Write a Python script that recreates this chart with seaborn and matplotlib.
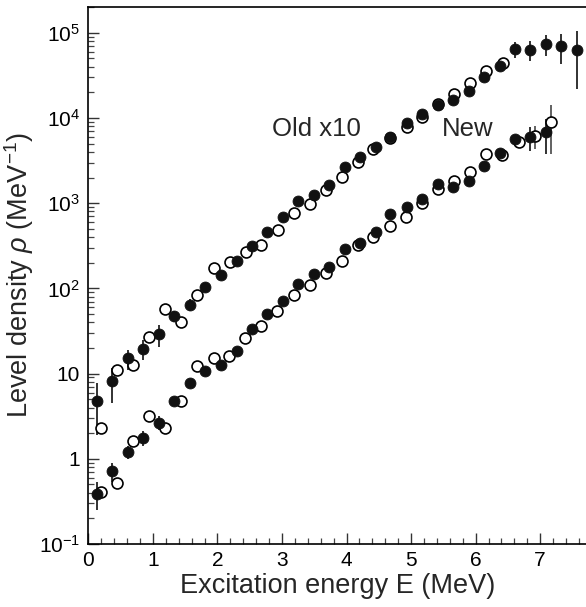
import numpy as np
import pandas as pd
import matplotlib
matplotlib.use("Agg")
import matplotlib.pyplot as plt
from matplotlib.ticker import FixedLocator, FixedFormatter, MultipleLocator, LogLocator, NullFormatter
import seaborn as sns

# ---------------- data ----------------
# "Old x10" band, filled points (with error bars)
old_fill_E = [0.135, 0.372, 0.61, 0.851, 1.09, 1.327, 1.57, 1.81, 2.05, 2.297, 2.53, 2.77, 3.01,
              3.25, 3.494, 3.73, 3.97, 4.21, 4.45, 4.68, 4.93, 5.17, 5.41, 5.656, 5.89, 6.13,
              6.37, 6.61, 6.85, 7.085, 7.33, 7.57]
old_fill_rho = [4.8, 8.1, 15.1, 19.6, 28.9, 47.5, 64.4, 104.7, 142, 211, 317, 455, 683,
                1061, 1259, 1636, 2637, 3458, 4571, 6026, 8670, 11150, 14400, 16260, 20750, 30060,
                41120, 63970, 62800, 73950, 70000, 62800]
old_fill_err = [2.9, 3.6, 4.0, 5.0, 8.5, 7.0, 10, 10, 12, 16, 22, 30, 45,
                70, 90, 120, 180, 240, 320, 420, 600, 800, 1000, 1300, 1700, 2500,
                3500, 13600, 16500, 20000, 26500, 41000]
# "Old x10" band, open points
old_open_E = [0.19, 0.449, 0.69, 0.944, 1.19, 1.44, 1.69, 1.94, 2.19, 2.436, 2.68, 2.937, 3.18,
              3.43, 3.675, 3.93, 4.175, 4.418, 4.67, 4.93, 5.17, 5.41, 5.67, 5.91, 6.16, 6.42]
old_open_rho = [2.3, 11.0, 12.5, 26.9, 57.3, 40, 83, 175, 202, 265, 323, 484, 767,
                986, 1429, 2032, 3019, 4296, 5800, 7780, 10190, 14490, 19140, 25530, 35900, 44770]

# "New" band, filled points (with error bars)
new_fill_E = [0.135, 0.372, 0.61, 0.851, 1.09, 1.327, 1.57, 1.81, 2.05, 2.297, 2.53, 2.77, 3.01,
              3.25, 3.494, 3.73, 3.97, 4.21, 4.45, 4.68, 4.93, 5.17, 5.41, 5.656, 5.89, 6.13,
              6.37, 6.61, 6.85, 7.085]
new_fill_rho = [0.39, 0.71, 1.20, 1.77, 2.65, 4.77, 7.7, 10.7, 12.5, 18.4, 33.1, 49.7, 71,
                112.6, 146, 177, 290, 345, 463, 747, 895, 1130, 1694, 1562, 1824, 2740,
                3855, 5675, 6030, 6790]
new_fill_err = [0.14, 0.18, 0.2, 0.37, 0.5, 0.4, 0.6, 0.9, 1.0, 1.4, 2.4, 3.5, 5,
                8, 10, 13, 20, 25, 33, 50, 65, 85, 120, 130, 160, 250,
                400, 600, 1900, 3000]
# "New" band, open points
new_open_E = [0.19, 0.449, 0.69, 0.944, 1.19, 1.44, 1.69, 1.94, 2.18, 2.43, 2.68, 2.93, 3.18,
              3.43, 3.675, 3.93, 4.175, 4.418, 4.676, 4.92, 5.165, 5.41, 5.666, 5.913, 6.156,
              6.41, 6.67, 6.92, 7.17]
new_open_rho = [0.41, 0.52, 1.62, 3.18, 2.28, 4.77, 12.3, 15.1, 16.1, 25.9, 36.2, 54.3, 83.7,
                109.6, 150, 210, 321, 398, 540, 684, 997, 1456, 1824, 2323, 3830,
                3680, 5190, 6200, 9060]
new_open_err = [0] * 25 + [0, 0, 1900, 5300]

ytick_vals = [0.1, 1, 10, 100, 1000, 10000, 100000]
ytick_labels = ["$10^{-1}$", "1", "10", "$10^{2}$", "$10^{3}$", "$10^{4}$", "$10^{5}$"]
xtick_vals = [0, 1, 2, 3, 4, 5, 6, 7]

# ---------------- style ----------------
sns.set_theme(style="ticks")
plt.rcParams["font.family"] = ["Liberation Sans", "DejaVu Sans"]
plt.rcParams["mathtext.fontset"] = "custom"
plt.rcParams["mathtext.rm"] = "Liberation Sans"
plt.rcParams["mathtext.it"] = "Liberation Sans:italic"
plt.rcParams["mathtext.default"] = "rm"

fig = plt.figure(figsize=(5.86, 6.07), dpi=100)
ax = fig.add_axes([0.1507, 0.1038, 0.8493, 0.8847])

# error bars
ax.errorbar(old_fill_E, old_fill_rho, yerr=old_fill_err, fmt="none", ecolor="#222222",
            elinewidth=1.3, capsize=0, zorder=2)
ax.errorbar(new_fill_E, new_fill_rho, yerr=new_fill_err, fmt="none", ecolor="#222222",
            elinewidth=1.3, capsize=0, zorder=2)
ax.errorbar(new_open_E, new_open_rho, yerr=new_open_err, fmt="none", ecolor="#555555",
            elinewidth=1.3, capsize=0, zorder=2)

ms = 62
sns.scatterplot(x=old_open_E, y=old_open_rho, ax=ax, s=ms, marker="o", facecolor="white",
                edgecolor="black", linewidth=1.2, zorder=3)
sns.scatterplot(x=new_open_E, y=new_open_rho, ax=ax, s=ms, marker="o", facecolor="white",
                edgecolor="black", linewidth=1.2, zorder=3)
sns.scatterplot(x=old_fill_E, y=old_fill_rho, ax=ax, s=ms, marker="o", color="#111111",
                edgecolor="#111111", linewidth=0.6, zorder=4)
sns.scatterplot(x=new_fill_E, y=new_fill_rho, ax=ax, s=ms, marker="o", color="#111111",
                edgecolor="#111111", linewidth=0.6, zorder=4)

ax.set_yscale("log")
ax.set_xlim(0, 7.71)
ax.set_ylim(0.1, 2.01e5)

ax.xaxis.set_major_locator(FixedLocator(xtick_vals))
ax.xaxis.set_minor_locator(MultipleLocator(0.2))
ax.yaxis.set_major_locator(FixedLocator(ytick_vals))
ax.yaxis.set_major_formatter(FixedFormatter(ytick_labels))
ax.yaxis.set_minor_locator(LogLocator(base=10, subs=np.arange(2, 10)))
ax.yaxis.set_minor_formatter(NullFormatter())

ax.tick_params(axis="both", which="major", direction="in", length=8, width=1.0,
               labelsize=15, color="#333333", labelcolor="black")
ax.tick_params(axis="both", which="minor", direction="in", length=4.5, width=0.9,
               color="#444444")
ax.tick_params(axis="x", which="both", top=False, pad=5)
ax.tick_params(axis="y", which="both", right=False, pad=6)

for side in ["left", "bottom", "top"]:
    ax.spines[side].set_linewidth(1.2)
    ax.spines[side].set_color("black")
ax.spines["right"].set_visible(False)

ax.set_xlabel("Excitation energy E (MeV)", fontsize=19.5, labelpad=2)
ax.set_ylabel(r"Level density $\mathit{\rho}$ (MeV$^{-1}$)", fontsize=19.5, labelpad=2)

ax.text(3.53, 7400, "Old x10", fontsize=18.5, ha="center", va="center")
ax.text(5.88, 7400, "New", fontsize=18.5, ha="center", va="center")

fig.savefig("out.png", dpi=100)
